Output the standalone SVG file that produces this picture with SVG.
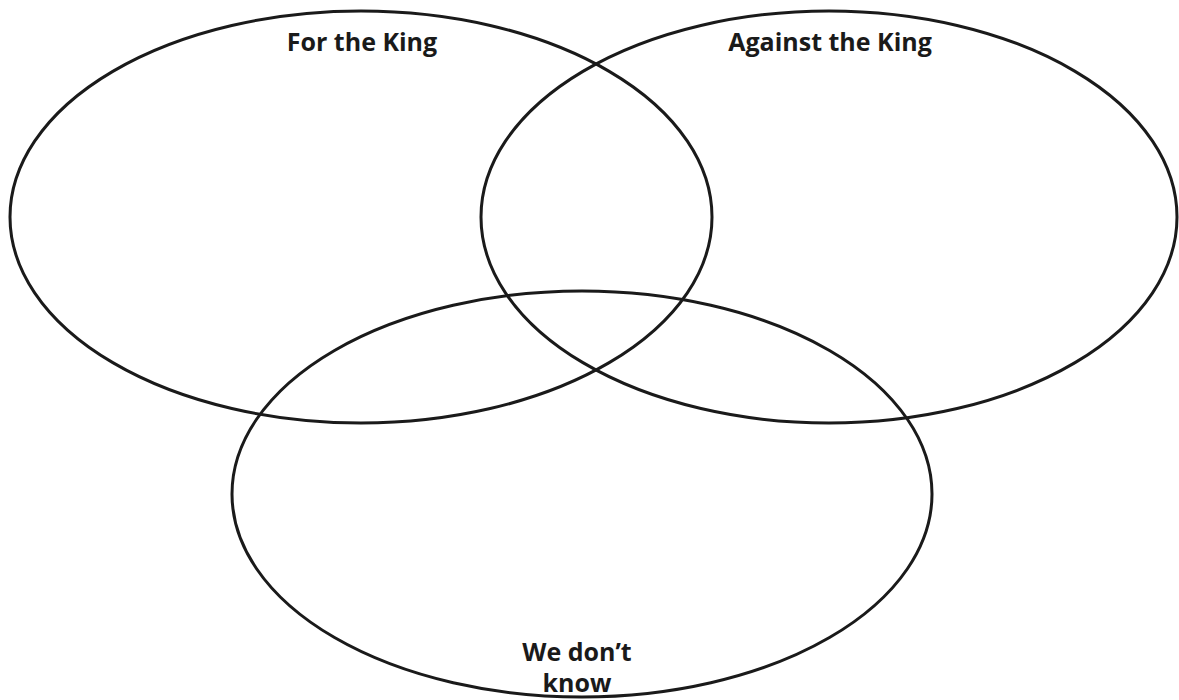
<svg xmlns="http://www.w3.org/2000/svg" width="1179" height="700" viewBox="0 0 1179 700">
<style>
.set{fill:none;stroke:#1a1a1a;stroke-width:3}
.lbl{font-family:"Open Sans","Liberation Sans",sans-serif;font-weight:700;font-size:25px;fill:#1a1a1a;text-anchor:middle}
</style>
<rect width="1179" height="700" fill="#ffffff"/>
<g id="for-the-king">
<ellipse class="set" cx="361" cy="217" rx="351" ry="206"/>
<text class="lbl" x="362" y="51">For the King</text>
</g>
<g id="against-the-king">
<ellipse class="set" cx="829" cy="217" rx="348" ry="206"/>
<text class="lbl" x="830" y="51">Against the King</text>
</g>
<g id="we-dont-know">
<ellipse class="set" cx="582" cy="494" rx="350" ry="203"/>
<text class="lbl" x="577" y="661">We don’t</text>
<text class="lbl" x="577" y="692">know</text>
</g>
<g id="connectors"></g>
</svg>
